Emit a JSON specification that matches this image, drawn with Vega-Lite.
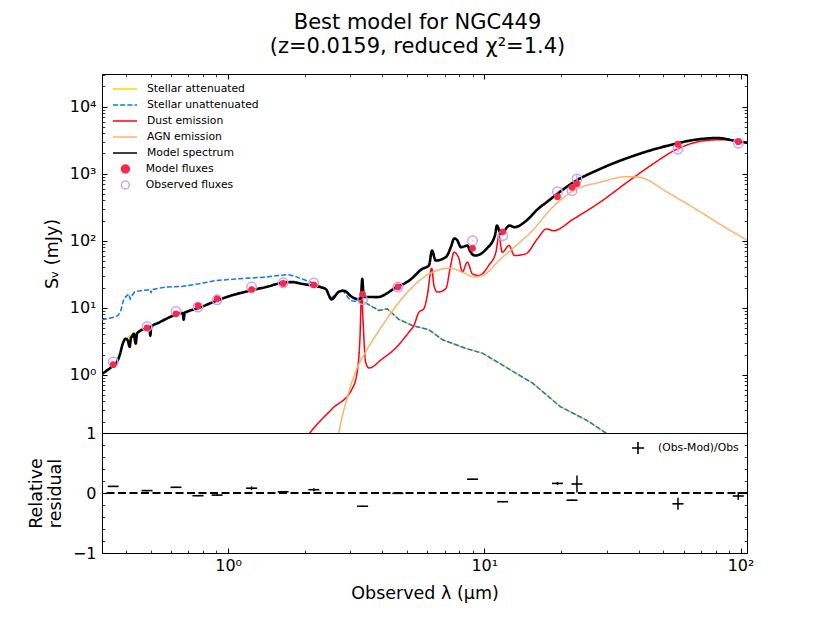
{
  "$schema": "https://vega.github.io/schema/vega-lite/v6.json",
  "background": "white",
  "padding": {"left": 26, "top": 11, "right": 5, "bottom": 5},
  "bounds": "flush",
  "title": {
    "text": ["Best model for NGC449", "(z=0.0159, reduced χ²=1.4)"],
    "font": "DejaVu Sans", "fontSize": 21, "fontWeight": "normal", "color": "black",
    "anchor": "middle", "frame": "group", "lineHeight": 24, "offset": 16, "dx": -7
  },
  "datasets": {
    "spec": [
      {"series": "Stellar attenuated", "lam": 0.322, "S": 1.03},
      {"series": "Stellar attenuated", "lam": 0.336, "S": 1.15},
      {"series": "Stellar attenuated", "lam": 0.352, "S": 1.32},
      {"series": "Stellar attenuated", "lam": 0.367, "S": 1.51},
      {"series": "Stellar attenuated", "lam": 0.378, "S": 1.99},
      {"series": "Stellar attenuated", "lam": 0.388, "S": 2.9},
      {"series": "Stellar attenuated", "lam": 0.398, "S": 3.44},
      {"series": "Stellar attenuated", "lam": 0.428, "S": 4.08},
      {"series": "Stellar attenuated", "lam": 0.448, "S": 4.37},
      {"series": "Stellar attenuated", "lam": 0.483, "S": 4.97},
      {"series": "Stellar attenuated", "lam": 0.536, "S": 5.96},
      {"series": "Stellar attenuated", "lam": 0.624, "S": 7.84},
      {"series": "Stellar attenuated", "lam": 0.69, "S": 8.69},
      {"series": "Stellar attenuated", "lam": 0.769, "S": 9.96},
      {"series": "Stellar attenuated", "lam": 0.906, "S": 12.8},
      {"series": "Stellar attenuated", "lam": 1.053, "S": 15.6},
      {"series": "Stellar attenuated", "lam": 1.223, "S": 18.0},
      {"series": "Stellar attenuated", "lam": 1.416, "S": 20.5},
      {"series": "Stellar attenuated", "lam": 1.625, "S": 23.5},
      {"series": "Stellar attenuated", "lam": 1.778, "S": 24.1},
      {"series": "Stellar attenuated", "lam": 1.941, "S": 22.7},
      {"series": "Stellar attenuated", "lam": 2.13, "S": 21.4},
      {"series": "Stellar attenuated", "lam": 2.4, "S": 19.1},
      {"series": "Stellar attenuated", "lam": 2.535, "S": 13.3},
      {"series": "Stellar attenuated", "lam": 2.705, "S": 17.3},
      {"series": "Stellar attenuated", "lam": 2.83, "S": 17.9},
      {"series": "Stellar attenuated", "lam": 3.05, "S": 14.4},
      {"series": "Stellar attenuated", "lam": 3.23, "S": 13.3},
      {"series": "Stellar attenuated", "lam": 3.44, "S": 11.8},
      {"series": "Stellar attenuated", "lam": 3.88, "S": 9.09},
      {"series": "Stellar attenuated", "lam": 4.18, "S": 9.63},
      {"series": "Stellar attenuated", "lam": 4.64, "S": 6.71},
      {"series": "Stellar attenuated", "lam": 5.23, "S": 5.43},
      {"series": "Stellar attenuated", "lam": 6.08, "S": 4.69},
      {"series": "Stellar attenuated", "lam": 6.87, "S": 3.32},
      {"series": "Stellar attenuated", "lam": 8.48, "S": 2.47},
      {"series": "Stellar attenuated", "lam": 9.87, "S": 2.08},
      {"series": "Stellar attenuated", "lam": 11.5, "S": 1.47},
      {"series": "Stellar attenuated", "lam": 15.5, "S": 0.74},
      {"series": "Stellar attenuated", "lam": 19.8, "S": 0.334},
      {"series": "Stellar attenuated", "lam": 25.1, "S": 0.209},
      {"series": "Stellar attenuated", "lam": 30.1, "S": 0.132},
      {"series": "Stellar attenuated", "lam": 33.6, "S": 0.094},

      {"series": "Stellar unattenuated", "lam": 0.322, "S": 6.6},
      {"series": "Stellar unattenuated", "lam": 0.342, "S": 6.95},
      {"series": "Stellar unattenuated", "lam": 0.363, "S": 7.24},
      {"series": "Stellar unattenuated", "lam": 0.374, "S": 7.84},
      {"series": "Stellar unattenuated", "lam": 0.381, "S": 9.0},
      {"series": "Stellar unattenuated", "lam": 0.392, "S": 13.6},
      {"series": "Stellar unattenuated", "lam": 0.402, "S": 15.0},
      {"series": "Stellar unattenuated", "lam": 0.409, "S": 16.1},
      {"series": "Stellar unattenuated", "lam": 0.415, "S": 13.5},
      {"series": "Stellar unattenuated", "lam": 0.421, "S": 15.0},
      {"series": "Stellar unattenuated", "lam": 0.432, "S": 17.3},
      {"series": "Stellar unattenuated", "lam": 0.461, "S": 18.0},
      {"series": "Stellar unattenuated", "lam": 0.497, "S": 18.6},
      {"series": "Stellar unattenuated", "lam": 0.5, "S": 16.5},
      {"series": "Stellar unattenuated", "lam": 0.503, "S": 18.6},
      {"series": "Stellar unattenuated", "lam": 0.569, "S": 20.3},
      {"series": "Stellar unattenuated", "lam": 0.659, "S": 20.8},
      {"series": "Stellar unattenuated", "lam": 0.769, "S": 22.7},
      {"series": "Stellar unattenuated", "lam": 0.893, "S": 25.4},
      {"series": "Stellar unattenuated", "lam": 1.1, "S": 27.0},
      {"series": "Stellar unattenuated", "lam": 1.4, "S": 28.6},
      {"series": "Stellar unattenuated", "lam": 1.7, "S": 31.2},
      {"series": "Stellar unattenuated", "lam": 1.81, "S": 29.9},
      {"series": "Stellar unattenuated", "lam": 1.89, "S": 27.9},
      {"series": "Stellar unattenuated", "lam": 2.19, "S": 22.7},
      {"series": "Stellar unattenuated", "lam": 2.4, "S": 19.1},
      {"series": "Stellar unattenuated", "lam": 2.51, "S": 13.8},
      {"series": "Stellar unattenuated", "lam": 2.79, "S": 18.5},
      {"series": "Stellar unattenuated", "lam": 3.0, "S": 12.8},
      {"series": "Stellar unattenuated", "lam": 3.44, "S": 11.8},
      {"series": "Stellar unattenuated", "lam": 3.88, "S": 9.09},
      {"series": "Stellar unattenuated", "lam": 4.18, "S": 9.63},
      {"series": "Stellar unattenuated", "lam": 4.64, "S": 6.71},
      {"series": "Stellar unattenuated", "lam": 5.23, "S": 5.43},
      {"series": "Stellar unattenuated", "lam": 6.08, "S": 4.69},
      {"series": "Stellar unattenuated", "lam": 6.87, "S": 3.32},
      {"series": "Stellar unattenuated", "lam": 8.48, "S": 2.47},
      {"series": "Stellar unattenuated", "lam": 9.87, "S": 2.08},
      {"series": "Stellar unattenuated", "lam": 11.5, "S": 1.47},
      {"series": "Stellar unattenuated", "lam": 15.5, "S": 0.74},
      {"series": "Stellar unattenuated", "lam": 19.8, "S": 0.334},
      {"series": "Stellar unattenuated", "lam": 25.1, "S": 0.209},
      {"series": "Stellar unattenuated", "lam": 30.1, "S": 0.132},
      {"series": "Stellar unattenuated", "lam": 33.6, "S": 0.094},

      {"series": "Dust emission", "lam": 1.89, "S": 0.079},
      {"series": "Dust emission", "lam": 2.1, "S": 0.14},
      {"series": "Dust emission", "lam": 2.55, "S": 0.311},
      {"series": "Dust emission", "lam": 3.05, "S": 0.618},
      {"series": "Dust emission", "lam": 3.19, "S": 1.1},
      {"series": "Dust emission", "lam": 3.27, "S": 3.44},
      {"series": "Dust emission", "lam": 3.32, "S": 17.1},
      {"series": "Dust emission", "lam": 3.36, "S": 6.84},
      {"series": "Dust emission", "lam": 3.44, "S": 1.55},
      {"series": "Dust emission", "lam": 3.55, "S": 1.26},
      {"series": "Dust emission", "lam": 4.0, "S": 1.73},
      {"series": "Dust emission", "lam": 4.48, "S": 2.44},
      {"series": "Dust emission", "lam": 5.08, "S": 4.33},
      {"series": "Dust emission", "lam": 5.31, "S": 5.43},
      {"series": "Dust emission", "lam": 5.56, "S": 8.6},
      {"series": "Dust emission", "lam": 5.81, "S": 9.63},
      {"series": "Dust emission", "lam": 5.99, "S": 15.2},
      {"series": "Dust emission", "lam": 6.23, "S": 38.9},
      {"series": "Dust emission", "lam": 6.36, "S": 21.4},
      {"series": "Dust emission", "lam": 6.55, "S": 17.1},
      {"series": "Dust emission", "lam": 7.07, "S": 19.1},
      {"series": "Dust emission", "lam": 7.39, "S": 42.6},
      {"series": "Dust emission", "lam": 7.62, "S": 67.4},
      {"series": "Dust emission", "lam": 7.97, "S": 53.5},
      {"series": "Dust emission", "lam": 8.2, "S": 33.9},
      {"series": "Dust emission", "lam": 8.59, "S": 47.8},
      {"series": "Dust emission", "lam": 8.98, "S": 32.0},
      {"series": "Dust emission", "lam": 9.53, "S": 30.2},
      {"series": "Dust emission", "lam": 10.4, "S": 42.6},
      {"series": "Dust emission", "lam": 11.1, "S": 67.4},
      {"series": "Dust emission", "lam": 11.4, "S": 119},
      {"series": "Dust emission", "lam": 11.75, "S": 67.4},
      {"series": "Dust emission", "lam": 12.5, "S": 84.5},
      {"series": "Dust emission", "lam": 13.1, "S": 60},
      {"series": "Dust emission", "lam": 14.5, "S": 63.6},
      {"series": "Dust emission", "lam": 16.1, "S": 106},
      {"series": "Dust emission", "lam": 17.5, "S": 150},
      {"series": "Dust emission", "lam": 18.6, "S": 141},
      {"series": "Dust emission", "lam": 22.3, "S": 211},
      {"series": "Dust emission", "lam": 28.3, "S": 375},
      {"series": "Dust emission", "lam": 36.1, "S": 745},
      {"series": "Dust emission", "lam": 44.5, "S": 1315},
      {"series": "Dust emission", "lam": 56.7, "S": 2334},
      {"series": "Dust emission", "lam": 70.0, "S": 3041},
      {"series": "Dust emission", "lam": 83.9, "S": 3212},
      {"series": "Dust emission", "lam": 107, "S": 2938},

      {"series": "AGN emission", "lam": 2.64, "S": 0.079},
      {"series": "AGN emission", "lam": 2.71, "S": 0.14},
      {"series": "AGN emission", "lam": 2.96, "S": 0.552},
      {"series": "AGN emission", "lam": 3.18, "S": 1.23},
      {"series": "AGN emission", "lam": 3.44, "S": 2.18},
      {"series": "AGN emission", "lam": 4.0, "S": 5.43},
      {"series": "AGN emission", "lam": 4.65, "S": 12.1},
      {"series": "AGN emission", "lam": 5.4, "S": 22.7},
      {"series": "AGN emission", "lam": 6.27, "S": 33.9},
      {"series": "AGN emission", "lam": 7.39, "S": 38.9},
      {"series": "AGN emission", "lam": 8.2, "S": 33.9},
      {"series": "AGN emission", "lam": 9.12, "S": 28.6},
      {"series": "AGN emission", "lam": 10.1, "S": 32.0},
      {"series": "AGN emission", "lam": 11.4, "S": 50.5},
      {"series": "AGN emission", "lam": 13.3, "S": 84.5},
      {"series": "AGN emission", "lam": 15.4, "S": 141},
      {"series": "AGN emission", "lam": 17.9, "S": 278},
      {"series": "AGN emission", "lam": 22.3, "S": 558},
      {"series": "AGN emission", "lam": 28.3, "S": 745},
      {"series": "AGN emission", "lam": 36.1, "S": 902},
      {"series": "AGN emission", "lam": 40.2, "S": 884},
      {"series": "AGN emission", "lam": 51.8, "S": 528},
      {"series": "AGN emission", "lam": 70.0, "S": 266},
      {"series": "AGN emission", "lam": 86.3, "S": 161},
      {"series": "AGN emission", "lam": 107, "S": 100},

      {"series": "Model spectrum", "lam": 0.322, "S": 1.03},
      {"series": "Model spectrum", "lam": 0.336, "S": 1.15},
      {"series": "Model spectrum", "lam": 0.352, "S": 1.32},
      {"series": "Model spectrum", "lam": 0.367, "S": 1.51},
      {"series": "Model spectrum", "lam": 0.378, "S": 1.99},
      {"series": "Model spectrum", "lam": 0.388, "S": 2.9},
      {"series": "Model spectrum", "lam": 0.398, "S": 3.44},
      {"series": "Model spectrum", "lam": 0.405, "S": 3.3},
      {"series": "Model spectrum", "lam": 0.413, "S": 2.61},
      {"series": "Model spectrum", "lam": 0.418, "S": 3.6},
      {"series": "Model spectrum", "lam": 0.421, "S": 3.68},
      {"series": "Model spectrum", "lam": 0.428, "S": 4.08},
      {"series": "Model spectrum", "lam": 0.436, "S": 2.9},
      {"series": "Model spectrum", "lam": 0.441, "S": 4.1},
      {"series": "Model spectrum", "lam": 0.448, "S": 4.37},
      {"series": "Model spectrum", "lam": 0.483, "S": 4.97},
      {"series": "Model spectrum", "lam": 0.493, "S": 5.1},
      {"series": "Model spectrum", "lam": 0.497, "S": 3.81},
      {"series": "Model spectrum", "lam": 0.501, "S": 5.2},
      {"series": "Model spectrum", "lam": 0.536, "S": 5.96},
      {"series": "Model spectrum", "lam": 0.624, "S": 7.84},
      {"series": "Model spectrum", "lam": 0.665, "S": 8.3},
      {"series": "Model spectrum", "lam": 0.671, "S": 6.6},
      {"series": "Model spectrum", "lam": 0.677, "S": 8.4},
      {"series": "Model spectrum", "lam": 0.69, "S": 8.69},
      {"series": "Model spectrum", "lam": 0.769, "S": 9.96},
      {"series": "Model spectrum", "lam": 0.906, "S": 12.8},
      {"series": "Model spectrum", "lam": 1.053, "S": 15.6},
      {"series": "Model spectrum", "lam": 1.223, "S": 18.0},
      {"series": "Model spectrum", "lam": 1.416, "S": 20.5},
      {"series": "Model spectrum", "lam": 1.625, "S": 23.5},
      {"series": "Model spectrum", "lam": 1.778, "S": 24.1},
      {"series": "Model spectrum", "lam": 1.941, "S": 22.7},
      {"series": "Model spectrum", "lam": 2.13, "S": 21.4},
      {"series": "Model spectrum", "lam": 2.4, "S": 19.1},
      {"series": "Model spectrum", "lam": 2.535, "S": 13.3},
      {"series": "Model spectrum", "lam": 2.705, "S": 17.3},
      {"series": "Model spectrum", "lam": 2.83, "S": 17.9},
      {"series": "Model spectrum", "lam": 3.05, "S": 14.4},
      {"series": "Model spectrum", "lam": 3.23, "S": 13.3},
      {"series": "Model spectrum", "lam": 3.3, "S": 14.5},
      {"series": "Model spectrum", "lam": 3.34, "S": 27.0},
      {"series": "Model spectrum", "lam": 3.38, "S": 15.0},
      {"series": "Model spectrum", "lam": 3.42, "S": 14.5},
      {"series": "Model spectrum", "lam": 3.82, "S": 14.4},
      {"series": "Model spectrum", "lam": 4.55, "S": 20.3},
      {"series": "Model spectrum", "lam": 5.08, "S": 25.2},
      {"series": "Model spectrum", "lam": 5.73, "S": 38.0},
      {"series": "Model spectrum", "lam": 6.08, "S": 42.6},
      {"series": "Model spectrum", "lam": 6.25, "S": 71.2},
      {"series": "Model spectrum", "lam": 6.46, "S": 50.5},
      {"series": "Model spectrum", "lam": 7.08, "S": 56.8},
      {"series": "Model spectrum", "lam": 7.41, "S": 80.9},
      {"series": "Model spectrum", "lam": 7.63, "S": 108},
      {"series": "Model spectrum", "lam": 7.82, "S": 103},
      {"series": "Model spectrum", "lam": 8.11, "S": 80},
      {"series": "Model spectrum", "lam": 8.6, "S": 84.5},
      {"series": "Model spectrum", "lam": 8.79, "S": 70.5},
      {"series": "Model spectrum", "lam": 9.2, "S": 60},
      {"series": "Model spectrum", "lam": 10.2, "S": 75.5},
      {"series": "Model spectrum", "lam": 11.0, "S": 119},
      {"series": "Model spectrum", "lam": 11.2, "S": 168},
      {"series": "Model spectrum", "lam": 11.6, "S": 126},
      {"series": "Model spectrum", "lam": 12.55, "S": 168},
      {"series": "Model spectrum", "lam": 13.1, "S": 159},
      {"series": "Model spectrum", "lam": 14.6, "S": 199},
      {"series": "Model spectrum", "lam": 16.2, "S": 298},
      {"series": "Model spectrum", "lam": 17.5, "S": 375},
      {"series": "Model spectrum", "lam": 19.6, "S": 525},
      {"series": "Model spectrum", "lam": 22.3, "S": 745},
      {"series": "Model spectrum", "lam": 28.3, "S": 1175},
      {"series": "Model spectrum", "lam": 38.4, "S": 1855},
      {"series": "Model spectrum", "lam": 51.8, "S": 2612},
      {"series": "Model spectrum", "lam": 70.0, "S": 3289},
      {"series": "Model spectrum", "lam": 81.4, "S": 3405},
      {"series": "Model spectrum", "lam": 94.6, "S": 3103},
      {"series": "Model spectrum", "lam": 107, "S": 2866}
    ],
    "phot": [
      {"lam": 0.356, "obs": 1.55, "obs_lo": 1.535, "obs_hi": 1.565, "mod": 1.41, "res": 0.11, "res_lo": 0.1, "res_hi": 0.12},
      {"lam": 0.483, "obs": 5.24, "obs_lo": 5.19, "obs_hi": 5.29, "mod": 5.02, "res": 0.04, "res_lo": 0.03, "res_hi": 0.05},
      {"lam": 0.626, "obs": 8.78, "obs_lo": 8.69, "obs_hi": 8.87, "mod": 8.11, "res": 0.095, "res_lo": 0.085, "res_hi": 0.105},
      {"lam": 0.763, "obs": 10.2, "obs_lo": 10.1, "obs_hi": 10.3, "mod": 10.65, "res": -0.045, "res_lo": -0.055, "res_hi": -0.035},
      {"lam": 0.906, "obs": 13.1, "obs_lo": 12.97, "obs_hi": 13.23, "mod": 13.55, "res": -0.035, "res_lo": -0.045, "res_hi": -0.025},
      {"lam": 1.235, "obs": 20.3, "obs_lo": 19.7, "obs_hi": 20.9, "mod": 18.7, "res": 0.08, "res_lo": 0.05, "res_hi": 0.11},
      {"lam": 1.64, "obs": 23.5, "obs_lo": 23.27, "obs_hi": 23.73, "mod": 23.0, "res": 0.02, "res_lo": 0.01, "res_hi": 0.03},
      {"lam": 2.16, "obs": 23.3, "obs_lo": 22.72, "obs_hi": 23.88, "mod": 22.0, "res": 0.055, "res_lo": 0.03, "res_hi": 0.08},
      {"lam": 3.35, "obs": 13.1, "obs_lo": 12.97, "obs_hi": 13.23, "mod": 16.0, "res": -0.22, "res_lo": -0.23, "res_hi": -0.21},
      {"lam": 4.6, "obs": 20.3, "obs_lo": 20.1, "obs_hi": 20.5, "mod": 20.4, "res": -0.005, "res_lo": -0.015, "res_hi": 0.005},
      {"lam": 9.0, "obs": 100, "obs_lo": 99, "obs_hi": 101, "mod": 77, "res": 0.23, "res_lo": 0.22, "res_hi": 0.24},
      {"lam": 11.8, "obs": 119, "obs_lo": 117.8, "obs_hi": 120.2, "mod": 136, "res": -0.145, "res_lo": -0.155, "res_hi": -0.135},
      {"lam": 19.3, "obs": 539, "obs_lo": 525.5, "obs_hi": 552.5, "mod": 453, "res": 0.16, "res_lo": 0.135, "res_hi": 0.185},
      {"lam": 22.0, "obs": 558, "obs_lo": 552.4, "obs_hi": 563.6, "mod": 625, "res": -0.12, "res_lo": -0.13, "res_hi": -0.11},
      {"lam": 23.0, "obs": 834, "obs_lo": 717, "obs_hi": 951, "mod": 709, "res": 0.15, "res_lo": 0.01, "res_hi": 0.29},
      {"lam": 57, "obs": 2334, "obs_lo": 2101, "obs_hi": 2567, "mod": 2754, "res": -0.18, "res_lo": -0.28, "res_hi": -0.08},
      {"lam": 98, "obs": 2850, "obs_lo": 2665, "obs_hi": 3035, "mod": 3000, "res": -0.05, "res_lo": -0.115, "res_hi": 0.015}
    ]
  },
  "spacing": 0,
  "vconcat": [
    {
      "width": 645,
      "height": 359,
      "layer": [
        {
          "layer": [
            {
              "data": {"name": "spec"},
              "transform": [{"filter": "datum.series === 'Stellar attenuated'"}],
              "mark": {"type": "line", "strokeWidth": 1.5, "clip": true},
              "encoding": {
                "x": {"field": "lam", "type": "quantitative", "scale": {"type": "log", "domain": [0.322, 106], "nice": false}, "axis": null},
                "y": {
                  "field": "S", "type": "quantitative",
                  "scale": {"type": "log", "domain": [0.135, 30700], "nice": false},
                  "axis": {
                    "orient": "left", "title": "Sᵥ (mJy)",
                    "values": [1, 10, 100, 1000, 10000],
                    "labelExpr": "'10' + ['⁰','¹','²','³','⁴'][round(log(datum.value)/LN10)]",
                    "tickSize": -5, "tickWidth": 1.1,
                    "labelPadding": 11, "titlePadding": 8
                  }
                },
                "color": {
                  "field": "series", "type": "nominal",
                  "scale": {
                    "domain": ["Stellar attenuated", "Stellar unattenuated", "Dust emission", "AGN emission", "Model spectrum"],
                    "range": ["#FFD700", "#0D75F8", "#FF000D", "#FFB16D", "#000000"]
                  },
                  "legend": {
                    "title": null, "orient": "top-left", "offset": 7, "padding": 0,
                    "labelFont": "DejaVu Sans", "labelFontSize": 10.8, "labelColor": "black",
                    "symbolType": "stroke", "symbolSize": 576, "symbolStrokeWidth": 1.6,
                    "symbolOffset": 3, "labelOffset": 9, "rowPadding": 0, "clipHeight": 16
                  }
                },
                "strokeDash": {
                  "field": "series", "type": "nominal",
                  "scale": {
                    "domain": ["Stellar attenuated", "Stellar unattenuated", "Dust emission", "AGN emission", "Model spectrum"],
                    "range": [[1, 0], [5, 2.2], [1, 0], [1, 0], [1, 0]]
                  },
                  "legend": {
                    "title": null, "orient": "top-left", "offset": 7, "padding": 0,
                    "labelFont": "DejaVu Sans", "labelFontSize": 10.8, "labelColor": "black",
                    "symbolType": "stroke", "symbolSize": 576, "symbolStrokeWidth": 1.6,
                    "symbolOffset": 3, "labelOffset": 9, "rowPadding": 0, "clipHeight": 16
                  }
                }
              }
            },
            {
              "data": {"name": "spec"},
              "transform": [{"filter": "datum.series === 'Stellar unattenuated'"}],
              "mark": {"type": "line", "strokeWidth": 1.5, "clip": true},
              "encoding": {
                "x": {"field": "lam", "type": "quantitative", "scale": {"type": "log", "domain": [0.322, 106], "nice": false}, "axis": null},
                "y": {"field": "S", "type": "quantitative", "scale": {"type": "log", "domain": [0.135, 30700], "nice": false}},
                "color": {"field": "series", "type": "nominal"},
                "strokeDash": {"field": "series", "type": "nominal"}
              }
            },
            {
              "data": {"name": "spec"},
              "transform": [{"filter": "datum.series === 'Dust emission'"}],
              "mark": {"type": "line", "strokeWidth": 1.5, "clip": true, "interpolate": "monotone"},
              "encoding": {
                "x": {"field": "lam", "type": "quantitative", "scale": {"type": "log", "domain": [0.322, 106], "nice": false}, "axis": null},
                "y": {"field": "S", "type": "quantitative", "scale": {"type": "log", "domain": [0.135, 30700], "nice": false}},
                "color": {"field": "series", "type": "nominal"},
                "strokeDash": {"field": "series", "type": "nominal"}
              }
            },
            {
              "data": {"name": "spec"},
              "transform": [{"filter": "datum.series === 'AGN emission'"}],
              "mark": {"type": "line", "strokeWidth": 1.5, "clip": true, "interpolate": "monotone"},
              "encoding": {
                "x": {"field": "lam", "type": "quantitative", "scale": {"type": "log", "domain": [0.322, 106], "nice": false}, "axis": null},
                "y": {"field": "S", "type": "quantitative", "scale": {"type": "log", "domain": [0.135, 30700], "nice": false}},
                "color": {"field": "series", "type": "nominal"},
                "strokeDash": {"field": "series", "type": "nominal"}
              }
            },
            {
              "data": {"name": "spec"},
              "transform": [{"filter": "datum.series === 'Model spectrum'"}],
              "mark": {"type": "line", "strokeWidth": 2.6, "clip": true, "interpolate": "monotone"},
              "encoding": {
                "x": {"field": "lam", "type": "quantitative", "scale": {"type": "log", "domain": [0.322, 106], "nice": false}, "axis": null},
                "y": {"field": "S", "type": "quantitative", "scale": {"type": "log", "domain": [0.135, 30700], "nice": false}},
                "color": {"field": "series", "type": "nominal"},
                "strokeDash": {"field": "series", "type": "nominal"}
              }
            },
            {
              "data": {"name": "phot"},
              "mark": {"type": "rule", "color": "#CAA0FF", "strokeWidth": 1.5},
              "encoding": {
                "x": {"field": "lam", "type": "quantitative", "scale": {"type": "log", "domain": [0.322, 106], "nice": false}, "axis": null},
                "y": {"field": "obs_lo", "type": "quantitative", "scale": {"type": "log", "domain": [0.135, 30700], "nice": false}},
                "y2": {"field": "obs_hi"}
              }
            },
            {
              "data": {"name": "phot"},
              "mark": {"type": "point", "filled": false, "size": 90, "strokeWidth": 1.5, "opacity": 1},
              "encoding": {
                "x": {"field": "lam", "type": "quantitative", "scale": {"type": "log", "domain": [0.322, 106], "nice": false}, "axis": null},
                "y": {"field": "obs", "type": "quantitative", "scale": {"type": "log", "domain": [0.135, 30700], "nice": false}},
                "stroke": {
                  "datum": "Observed fluxes", "type": "nominal",
                  "scale": {"domain": ["Model fluxes", "Observed fluxes"], "range": ["#FB2943", "#CAA0FF"]},
                  "legend": {
                    "title": null, "orient": "top-left", "offset": 7, "padding": 0,
                    "labelFont": "DejaVu Sans", "labelFontSize": 10.8, "labelColor": "black",
                    "symbolType": "circle", "symbolSize": 64, "symbolStrokeWidth": 1.5,
                    "symbolOffset": 11, "labelOffset": 15, "rowPadding": 0, "clipHeight": 16
                  }
                }
              }
            },
            {
              "data": {"name": "phot"},
              "mark": {"type": "circle", "size": 45, "opacity": 1},
              "encoding": {
                "x": {"field": "lam", "type": "quantitative", "scale": {"type": "log", "domain": [0.322, 106], "nice": false}, "axis": null},
                "y": {"field": "mod", "type": "quantitative", "scale": {"type": "log", "domain": [0.135, 30700], "nice": false}},
                "fill": {
                  "datum": "Model fluxes", "type": "nominal",
                  "scale": {"domain": ["Model fluxes", "Observed fluxes"], "range": ["#FB2943", "transparent"]},
                  "legend": {
                    "title": null, "orient": "top-left", "offset": 7, "padding": 0,
                    "labelFont": "DejaVu Sans", "labelFontSize": 10.8, "labelColor": "black",
                    "symbolType": "circle", "symbolSize": 64, "symbolStrokeWidth": 1.5,
                    "symbolOffset": 11, "labelOffset": 15, "rowPadding": 0, "clipHeight": 16
                  }
                }
              }
            }
          ]
        },
        {
          "data": {"name": "phot"},
          "mark": {"type": "point", "opacity": 0},
          "encoding": {
            "x": {
              "field": "lam", "type": "quantitative",
              "scale": {"type": "log", "domain": [0.322, 106], "nice": false},
              "axis": {"orient": "top", "title": null, "labels": false, "values": [1, 10, 100], "tickSize": -5, "tickWidth": 1.1}
            },
            "y": {
              "field": "obs", "type": "quantitative",
              "scale": {"type": "log", "domain": [0.135, 30700], "nice": false},
              "axis": {"orient": "left", "title": null, "labels": false, "values": [0.2, 0.3, 0.4, 0.5, 0.6, 0.7, 0.8, 0.9, 2, 3, 4, 5, 6, 7, 8, 9, 20, 30, 40, 50, 60, 70, 80, 90, 200, 300, 400, 500, 600, 700, 800, 900, 2000, 3000, 4000, 5000, 6000, 7000, 8000, 9000, 20000, 30000], "tickSize": -2.8, "tickWidth": 0.8}
            }
          }
        },
        {
          "data": {"name": "phot"},
          "mark": {"type": "point", "opacity": 0},
          "encoding": {
            "x": {
              "field": "lam", "type": "quantitative",
              "scale": {"type": "log", "domain": [0.322, 106], "nice": false},
              "axis": {"orient": "top", "title": null, "labels": false, "values": [0.4, 0.5, 0.6, 0.7, 0.8, 0.9, 2, 3, 4, 5, 6, 7, 8, 9, 20, 30, 40, 50, 60, 70, 80, 90], "tickSize": -2.8, "tickWidth": 0.8}
            },
            "y": {
              "field": "obs", "type": "quantitative",
              "scale": {"type": "log", "domain": [0.135, 30700], "nice": false},
              "axis": {"orient": "right", "title": null, "labels": false, "values": [1, 10, 100, 1000, 10000], "tickSize": -5, "tickWidth": 1.1}
            }
          }
        },
        {
          "data": {"name": "phot"},
          "mark": {"type": "point", "opacity": 0},
          "encoding": {
            "x": {"field": "lam", "type": "quantitative", "scale": {"type": "log", "domain": [0.322, 106], "nice": false}, "axis": null},
            "y": {
              "field": "obs", "type": "quantitative",
              "scale": {"type": "log", "domain": [0.135, 30700], "nice": false},
              "axis": {"orient": "right", "title": null, "labels": false, "values": [0.2, 0.3, 0.4, 0.5, 0.6, 0.7, 0.8, 0.9, 2, 3, 4, 5, 6, 7, 8, 9, 20, 30, 40, 50, 60, 70, 80, 90, 200, 300, 400, 500, 600, 700, 800, 900, 2000, 3000, 4000, 5000, 6000, 7000, 8000, 9000, 20000, 30000], "tickSize": -2.8, "tickWidth": 0.8}
            }
          }
        }
      ],
      "resolve": {"axis": {"x": "independent", "y": "independent"}}
    },
    {
      "width": 645,
      "height": 120,
      "layer": [
        {
          "layer": [
            {
              "data": {"values": [{"r": 0}]},
              "mark": {"type": "rule", "color": "black", "strokeWidth": 2, "strokeDash": [8, 3.5]},
              "encoding": {
                "y": {
                  "field": "r", "type": "quantitative",
                  "scale": {"domain": [-1, 1], "nice": false, "zero": false},
                  "axis": {
                    "orient": "left", "title": ["Relative", "residual"],
                    "values": [-1, 0, 1],
                    "labelExpr": "datum.value < 0 ? '−' + format(-datum.value, 'd') : format(datum.value, 'd')",
                    "tickSize": -5, "tickWidth": 1.1,
                    "labelPadding": 11, "titlePadding": 8, "titleLineHeight": 19
                  }
                }
              }
            },
            {
              "data": {"name": "phot"},
              "mark": {"type": "rule", "strokeWidth": 1.5},
              "encoding": {
                "x": {"field": "lam", "type": "quantitative", "scale": {"type": "log", "domain": [0.322, 106], "nice": false}},
                "y": {"field": "res_lo", "type": "quantitative", "scale": {"domain": [-1, 1], "nice": false, "zero": false}},
                "y2": {"field": "res_hi"},
                "color": {
                  "datum": "(Obs-Mod)/Obs", "type": "nominal",
                  "scale": {"domain": ["(Obs-Mod)/Obs"], "range": ["black"]},
                  "legend": {
                    "title": null, "orient": "top-right", "offset": 8, "padding": 0,
                    "labelFont": "DejaVu Sans", "labelFontSize": 10.8, "labelColor": "black",
                    "symbolType": "M-1,0L1,0M0,-1L0,1", "symbolSize": 144, "symbolStrokeWidth": 1.6,
                    "labelOffset": 13
                  }
                }
              }
            },
            {
              "data": {"name": "phot"},
              "mark": {"type": "tick", "orient": "horizontal", "size": 11, "thickness": 1.6, "opacity": 1, "color": "black"},
              "encoding": {
                "x": {
                  "field": "lam", "type": "quantitative",
                  "scale": {"type": "log", "domain": [0.322, 106], "nice": false},
                  "axis": {
                    "orient": "bottom", "title": "Observed λ (μm)",
                    "values": [1, 10, 100],
                    "labelExpr": "'10' + ['⁰','¹','²'][round(log(datum.value)/LN10)]",
                    "tickSize": -5, "tickWidth": 1.1,
                    "labelPadding": 9, "titlePadding": 11
                  }
                },
                "y": {"field": "res", "type": "quantitative", "scale": {"domain": [-1, 1], "nice": false, "zero": false}}
              }
            }
          ]
        },
        {
          "data": {"name": "phot"},
          "mark": {"type": "point", "opacity": 0},
          "encoding": {
            "x": {
              "field": "lam", "type": "quantitative",
              "scale": {"type": "log", "domain": [0.322, 106], "nice": false},
              "axis": {"orient": "bottom", "title": null, "labels": false, "values": [0.4, 0.5, 0.6, 0.7, 0.8, 0.9, 2, 3, 4, 5, 6, 7, 8, 9, 20, 30, 40, 50, 60, 70, 80, 90], "tickSize": -2.8, "tickWidth": 0.8}
            },
            "y": {
              "field": "res", "type": "quantitative",
              "scale": {"domain": [-1, 1], "nice": false, "zero": false},
              "axis": {"orient": "left", "title": null, "labels": false, "values": [-0.8, -0.6, -0.4, -0.2, 0.2, 0.4, 0.6, 0.8], "tickSize": -2.8, "tickWidth": 0.8}
            }
          }
        },
        {
          "data": {"name": "phot"},
          "mark": {"type": "point", "opacity": 0},
          "encoding": {
            "x": {"field": "lam", "type": "quantitative", "scale": {"type": "log", "domain": [0.322, 106], "nice": false}, "axis": null},
            "y": {
              "field": "res", "type": "quantitative",
              "scale": {"domain": [-1, 1], "nice": false, "zero": false},
              "axis": {"orient": "right", "title": null, "labels": false, "values": [-1, 0, 1], "tickSize": -5, "tickWidth": 1.1}
            }
          }
        },
        {
          "data": {"name": "phot"},
          "mark": {"type": "point", "opacity": 0},
          "encoding": {
            "x": {"field": "lam", "type": "quantitative", "scale": {"type": "log", "domain": [0.322, 106], "nice": false}, "axis": null},
            "y": {
              "field": "res", "type": "quantitative",
              "scale": {"domain": [-1, 1], "nice": false, "zero": false},
              "axis": {"orient": "right", "title": null, "labels": false, "values": [-0.8, -0.6, -0.4, -0.2, 0.2, 0.4, 0.6, 0.8], "tickSize": -2.8, "tickWidth": 0.8}
            }
          }
        }
      ],
      "resolve": {"axis": {"x": "independent", "y": "independent"}}
    }
  ],
  "resolve": {
    "scale": {"color": "independent", "strokeDash": "independent", "fill": "independent", "stroke": "independent"},
    "legend": {"color": "independent", "strokeDash": "independent", "fill": "independent", "stroke": "independent"}
  },
  "config": {
    "font": "DejaVu Sans",
    "view": {"stroke": "black", "strokeWidth": 1},
    "axis": {
      "domain": false, "grid": false,
      "tickColor": "black", "labelColor": "black", "titleColor": "black",
      "labelFont": "DejaVu Sans", "titleFont": "DejaVu Sans",
      "labelFontSize": 16, "titleFontSize": 17.5, "titleFontWeight": "normal",
      "labelFlush": false, "labelOverlap": false
    },
    "legend": {
      "labelFont": "DejaVu Sans",
      "layout": {"top-left": {"direction": "vertical", "margin": 0}}
    }
  }
}
